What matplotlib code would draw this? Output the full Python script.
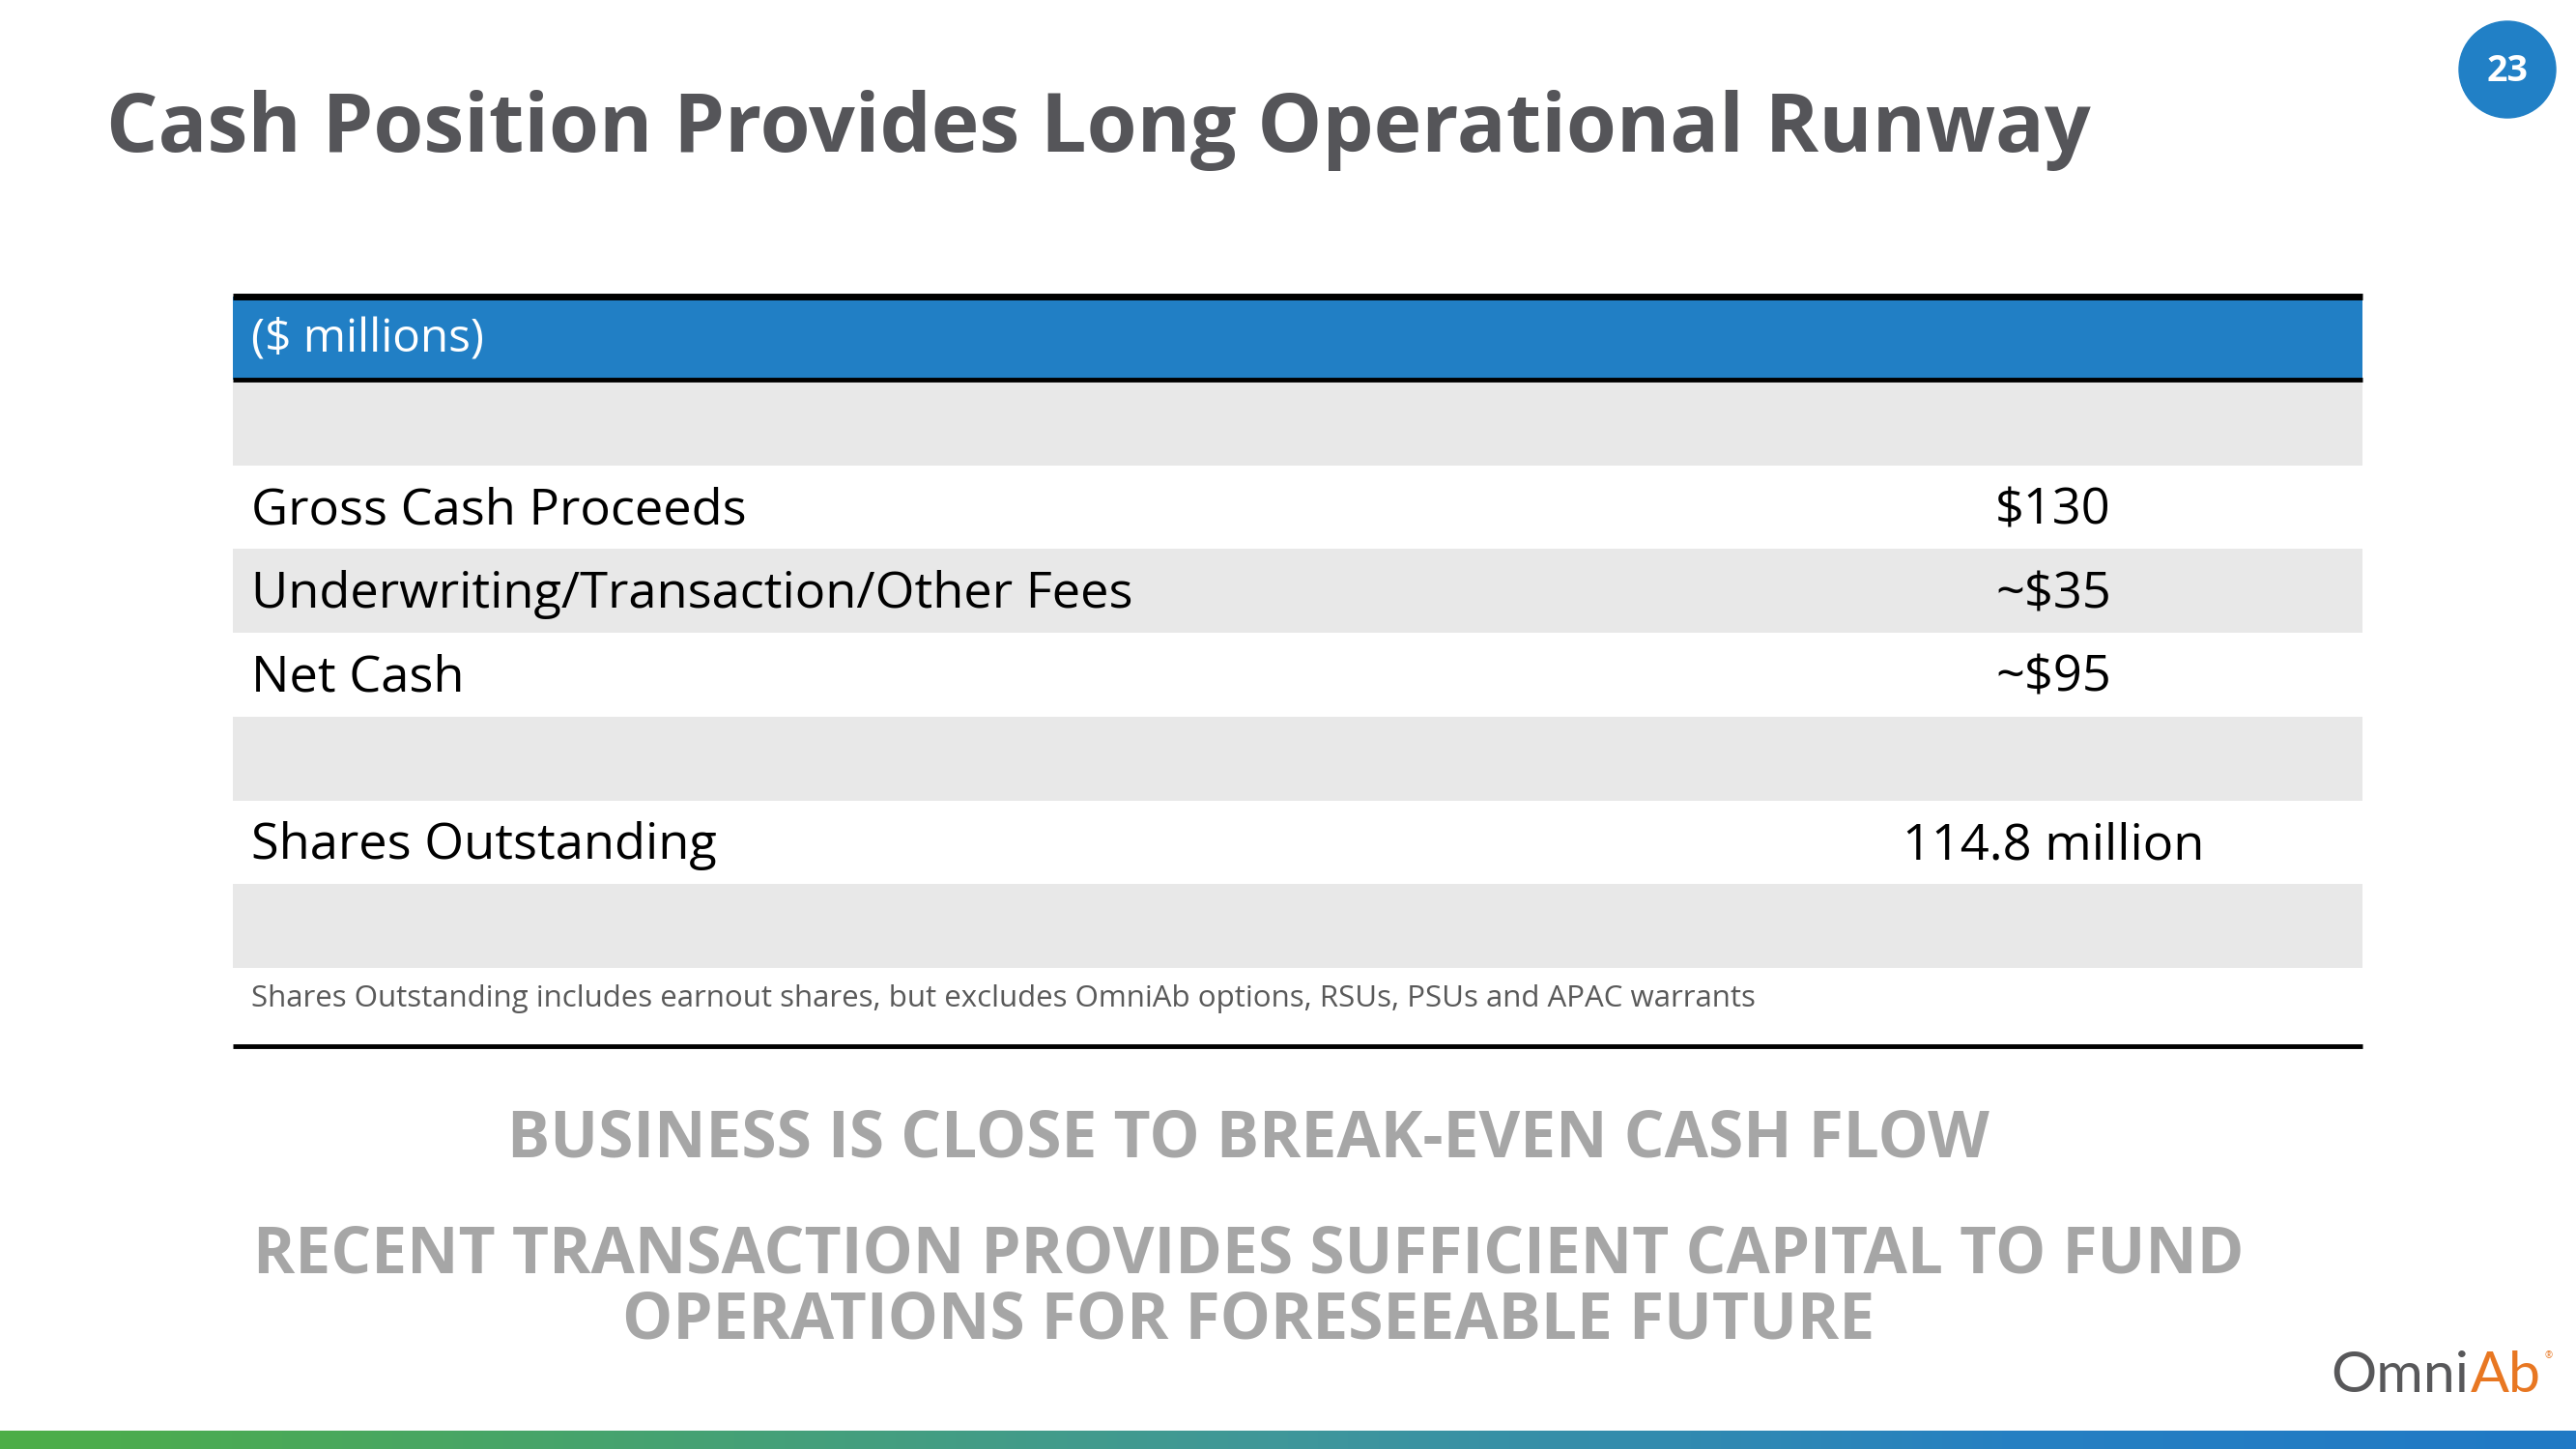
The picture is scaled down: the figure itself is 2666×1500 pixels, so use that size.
import numpy as np
import matplotlib.pyplot as plt
from matplotlib.patches import Rectangle, Circle
from matplotlib.colors import LinearSegmentedColormap

plt.rcParams['font.family'] = ['Open Sans', 'DejaVu Sans']

# table content
header = "($ millions)"
row_labels = ["", "Gross Cash Proceeds", "Underwriting/Transaction/Other Fees",
              "Net Cash", "", "Shares Outstanding", ""]
row_values = ["", "$130", "~$35", "~$95", "", "114.8 million", ""]
footnote = ("Shares Outstanding includes earnout shares, but excludes OmniAb "
            "options, RSUs, PSUs and APAC warrants")
title = "Cash Position Provides Long Operational Runway"
takeaways = ["BUSINESS IS CLOSE TO BREAK-EVEN CASH FLOW",
             "RECENT TRANSACTION PROVIDES SUFFICIENT CAPITAL TO FUND\nOPERATIONS FOR FORESEEABLE FUTURE"]
page_no = "23"

W, H = 2666, 1500
fig = plt.figure(figsize=(W / 100, H / 100), dpi=100)
ax = fig.add_axes([0, 0, 1, 1])
ax.set_xlim(0, W)
ax.set_ylim(H, 0)
ax.axis('off')

BLUE = '#217FC5'
GRAY = '#E8E8E8'

# title + page badge
ax.text(110, 135, title, fontsize=60.6, fontweight='bold', color='#555559',
        va='center', ha='left')
ax.add_patch(Circle((2595, 72), 50, color='#2180C6'))
ax.text(2595, 74, page_no, fontsize=27, fontweight='bold', color='white',
        ha='center', va='center')

# table geometry
left, right = 241, 2445
top = 307
head_h = 86
row_h = 86.7
val_x = 2125

ax.add_patch(Rectangle((left, top), right - left, head_h, color=BLUE, lw=0))
ax.plot([left, right], [top, top], color='black', lw=5, solid_capstyle='butt')
ax.plot([left, right], [top + head_h, top + head_h], color='black', lw=3.5,
        solid_capstyle='butt')
ax.text(left + 19, top + head_h / 2 + 2, header, fontsize=34.3, color='white',
        va='center', ha='left')

y0 = top + head_h + 2
for i, (lab, val) in enumerate(zip(row_labels, row_values)):
    y = y0 + i * row_h
    if i % 2 == 0:
        ax.add_patch(Rectangle((left, y), right - left, row_h, color=GRAY, lw=0))
    if lab:
        ax.text(left + 19, y + row_h / 2 + 4, lab, fontsize=37.7, color='black',
                va='center', ha='left')
    if val:
        ax.text(val_x, y + row_h / 2 + 4, val, fontsize=37.7, color='black',
                va='center', ha='center')

foot_y = y0 + len(row_labels) * row_h
ax.text(left + 19, foot_y + 32, footnote, fontsize=22.5, color='#595959',
        va='center', ha='left')
bottom = foot_y + 81
ax.plot([left, right], [bottom, bottom], color='black', lw=3.5,
        solid_capstyle='butt')

# takeaways
ax.text(1292, 1180, takeaways[0], fontsize=47.3, fontweight='bold',
        color='#A6A6A6', ha='center', va='center')
ax.text(1292, 1334, takeaways[1], fontsize=47.3, fontweight='bold',
        color='#A6A6A6', ha='center', va='center', linespacing=1.0)

# logo: "Omni" grey + "Ab" orange, fitted to the reference span
logo_font = ['Lato', 'Open Sans', 'DejaVu Sans']
t1 = ax.text(2412, 1441, "Omni", fontsize=50, color='#58585A', ha='left',
             va='baseline', family=logo_font)
fig.canvas.draw()
r = fig.canvas.get_renderer()
w1 = t1.get_window_extent(r).width
t2 = ax.text(2412 + w1 + 2, 1441, "Ab", fontsize=50, color='#E87722',
             ha='left', va='baseline', family=logo_font)
w2 = t2.get_window_extent(r).width
k = 218 / (w1 + 2 + w2)
t1.set_fontsize(50 * k)
t2.set_fontsize(50 * k)
t2.set_x(2412 + (w1 + 2) * k)
ax.text(2633, 1404, "\u00ae", fontsize=7, color='#E87722', ha='left',
        va='center')

# bottom gradient bar
cmap = LinearSegmentedColormap.from_list(
    'bar', [(0, '#4DAE47'), (0.5, '#3F979A'), (0.78, '#2680C2'), (1, '#2079C5')])
ax.imshow(np.linspace(0, 1, 512)[None, :], cmap=cmap, aspect='auto',
          extent=[0, W, 1500, 1481], zorder=5)
ax.set_xlim(0, W)
ax.set_ylim(H, 0)

fig.savefig('out.png', dpi=100, facecolor='white')
